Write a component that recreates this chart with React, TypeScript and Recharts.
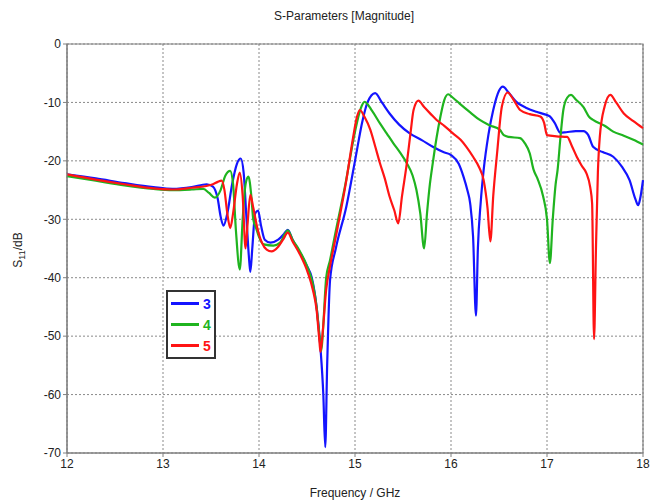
import React from 'react';
import { LineChart, Line, XAxis, YAxis, CartesianGrid, Legend, ReferenceArea } from 'recharts';

const freq3 = [12.0,12.3,12.6,12.9,13.1,13.3,13.455,13.52,13.57,13.6,13.63,13.67,13.72,13.77,13.81,13.84,13.87,13.9,13.91,13.93,13.96,13.99,14.02,14.06,14.12,14.2,14.26,14.3,14.35,14.42,14.5,14.55,14.6,14.64,14.67,14.69,14.71,14.74,14.8,14.91,15.0,15.08,15.13,15.21,15.28,15.36,15.46,15.57,15.7,15.81,15.92,16.0,16.08,16.13,16.17,16.2,16.23,16.26,16.28,16.31,16.34,16.39,16.44,16.5,16.54,16.6,16.68,16.78,16.89,16.97,17.03,17.08,17.14,17.2,17.3,17.38,17.43,17.48,17.58,17.69,17.78,17.86,17.92,17.95,17.97,18.0];
const s3 = [-22.3,-23.0,-23.8,-24.5,-24.8,-24.5,-24.0,-24.4,-26.5,-29.5,-31.1,-29,-24,-20.5,-19.6,-22,-30,-37.5,-39,-35,-29,-28.5,-31,-33.5,-34,-33.5,-32.5,-31.8,-33.5,-35.5,-38,-40,-45,-52,-60,-69,-55,-40.4,-35,-27.8,-20,-13,-10,-8.4,-10,-11.9,-13.8,-15.3,-16.5,-17.6,-18.5,-19,-20.5,-22.7,-25,-27.3,-33,-46.5,-35,-27,-21.6,-15.5,-11.3,-8,-7.3,-8.3,-9.9,-10.9,-11.6,-12,-12.4,-13.5,-15.2,-15.1,-14.9,-14.9,-15.6,-17.6,-18.5,-19.3,-21,-23.3,-26.5,-27.6,-26.5,-23.3];

const freq4 = [12.0,12.3,12.6,12.9,13.1,13.3,13.42,13.48,13.54,13.6,13.65,13.7,13.73,13.76,13.8,13.83,13.86,13.89,13.92,13.94,13.97,14.0,14.05,14.15,14.22,14.27,14.3,14.35,14.42,14.5,14.56,14.6,14.63,14.65,14.67,14.7,14.74,14.8,14.9,15.0,15.06,15.1,15.18,15.26,15.33,15.4,15.47,15.54,15.6,15.64,15.68,15.72,15.75,15.78,15.81,15.85,15.89,15.93,15.97,16.02,16.09,16.2,16.3,16.4,16.51,16.55,16.6,16.72,16.77,16.82,16.86,16.9,16.96,17.0,17.03,17.06,17.09,17.11,17.14,17.17,17.21,17.25,17.3,17.38,17.44,17.48,17.6,17.69,17.8,17.9,18.0];
const s4 = [-22.6,-23.4,-24.2,-24.8,-25.0,-24.9,-24.8,-25.5,-26.3,-25,-22.5,-21.7,-24,-32,-38.6,-30,-24,-22.7,-26,-30,-31.5,-33,-34.3,-34.5,-34,-32.5,-31.9,-33.5,-35.3,-38,-41,-45,-50,-52.5,-48,-40,-37,-32,-24,-15,-11,-9.9,-11.5,-13.6,-15.3,-17,-18.6,-20.4,-22.5,-25,-29,-35,-29,-24,-20.4,-16,-12.4,-9.6,-8.6,-9.2,-10.2,-11.7,-13,-13.9,-14.7,-15.6,-15.9,-16.1,-17,-18.7,-21.5,-23,-26.1,-30,-37.5,-30,-24,-21.6,-16,-11.3,-9.2,-8.7,-9.5,-10.8,-12.5,-13,-14,-15,-15.7,-16.4,-17.2];

const freq5 = [12.0,12.3,12.6,12.9,13.1,13.3,13.45,13.52,13.57,13.61,13.64,13.67,13.7,13.73,13.77,13.8,13.83,13.86,13.88,13.91,13.94,13.98,14.03,14.08,14.13,14.2,14.25,14.3,14.35,14.42,14.51,14.56,14.6,14.63,14.64,14.66,14.7,14.74,14.8,14.91,14.98,15.02,15.05,15.1,15.16,15.21,15.26,15.31,15.36,15.41,15.45,15.49,15.54,15.58,15.61,15.66,15.72,15.79,15.85,15.93,16.02,16.1,16.16,16.23,16.29,16.34,16.38,16.41,16.44,16.48,16.53,16.59,16.65,16.72,16.82,16.93,16.97,17.0,17.1,17.21,17.26,17.31,17.36,17.41,17.45,17.47,17.49,17.51,17.53,17.55,17.6,17.66,17.72,17.8,17.9,18.0];
const s5 = [-22.3,-23.2,-24.0,-24.7,-24.9,-24.6,-24.3,-24.0,-23.6,-23.4,-25,-29,-31.5,-29,-24,-22,-26,-35,-31,-25.8,-28,-31.3,-34,-35.2,-35.5,-34.7,-33.5,-32.3,-33.8,-35.8,-39.2,-42,-45.5,-51,-52.7,-50,-42,-38,-33,-23.3,-16,-12.5,-11.3,-12.5,-14.7,-17.5,-20.4,-23,-26.1,-28.5,-30.7,-26,-20.4,-15,-11.3,-9.7,-10.8,-12,-13,-14,-15.3,-16.4,-17.6,-19.3,-21,-23.3,-28,-33.8,-26,-18.7,-10.7,-8.3,-9.5,-11.3,-12,-12.4,-13.5,-15.6,-15.8,-15.9,-17.5,-19.3,-20.8,-22.1,-24.5,-27.3,-50.5,-35,-22,-15.9,-10.7,-8.7,-10,-11.9,-13.2,-14.4];

const xTicks = [12, 13, 14, 15, 16, 17, 18];
const yTicks = [0, -10, -20, -30, -40, -50, -60, -70];

const seriesNames = ['3', '4', '5'];
const seriesColors = ['#1414ff', '#1fb41f', '#ff1414'];

const toPoints = (f: number[], s: number[]) => f.map((x, i) => ({ f: x, s: s[i] }));
const seriesData = [toPoints(freq3, s3), toPoints(freq4, s4), toPoints(freq5, s5)];

const FONT = '"Liberation Sans", Arial, sans-serif';

const YLabel = () => (
  <text
    x={22}
    y={250}
    transform="rotate(-90, 22, 250)"
    textAnchor="middle"
    fontFamily={FONT}
    fontSize={12}
    fill="#222"
  >
    S<tspan dy={3} fontSize={9}>11</tspan><tspan dy={-3}>/dB</tspan>
  </text>
);

const LegendBox = () => (
  <div
    style={{
      border: '2px solid #333',
      background: '#fff',
      width: 46,
      height: 64,
      paddingTop: 1,
      boxSizing: 'content-box',
      fontFamily: FONT,
    }}
  >
    {seriesNames.map((n, i) => (
      <div key={n} style={{ display: 'flex', alignItems: 'center', height: 21, paddingLeft: 3 }}>
        <div style={{ width: 28, height: 3, background: seriesColors[i] }} />
        <span style={{ color: seriesColors[i], fontSize: 14, fontWeight: 'bold', marginLeft: 4, lineHeight: '14px' }}>{n}</span>
      </div>
    ))}
  </div>
);

export default function App() {
  return (
    <div style={{ position: 'absolute', left: 0, top: 0, width: 658, height: 502, background: '#fff' }}>
      <div
        style={{
          position: 'absolute',
          left: 0,
          top: 9,
          width: 658,
          textAlign: 'center',
          fontFamily: FONT,
          fontSize: 12,
          color: '#222',
          paddingLeft: 30,
          boxSizing: 'border-box',
        }}
      >
        S-Parameters [Magnitude]
      </div>
      <LineChart width={658} height={502} margin={{ top: 44, right: 15, bottom: 24, left: 10 }}>
        <CartesianGrid stroke="#8a8a8a" strokeDasharray="2 2" />
        <ReferenceArea x1={12} x2={18} y1={-70} y2={0} fill="none" stroke="#808080" strokeWidth={1.2} ifOverflow="visible" />
        <XAxis
          dataKey="f"
          type="number"
          domain={[12, 18]}
          ticks={xTicks}
          allowDuplicatedCategory={false}
          height={25}
          tickSize={4}
          stroke="#808080"
          tick={{ fill: '#222', fontSize: 12, fontFamily: FONT }}
          label={{ value: 'Frequency / GHz', position: 'insideBottom', offset: -19, fill: '#222', fontSize: 12, fontFamily: FONT }}
        />
        <YAxis
          type="number"
          domain={[-70, 0]}
          ticks={yTicks}
          width={57}
          tickSize={4}
          stroke="#808080"
          tick={{ fill: '#222', fontSize: 12, fontFamily: FONT }}
          label={<YLabel />}
        />
        {seriesData.map((d, i) => (
          <Line
            key={seriesNames[i]}
            data={d}
            dataKey="s"
            name={seriesNames[i]}
            type="monotone"
            stroke={seriesColors[i]}
            strokeWidth={2.2}
            dot={false}
            isAnimationActive={false}
          />
        ))}
        <Legend
          content={<LegendBox />}
          layout="vertical"
          align="center"
          verticalAlign="middle"
          wrapperStyle={{ position: 'absolute', left: 166, top: 290, width: 50, height: 67 }}
        />
      </LineChart>
    </div>
  );
}
